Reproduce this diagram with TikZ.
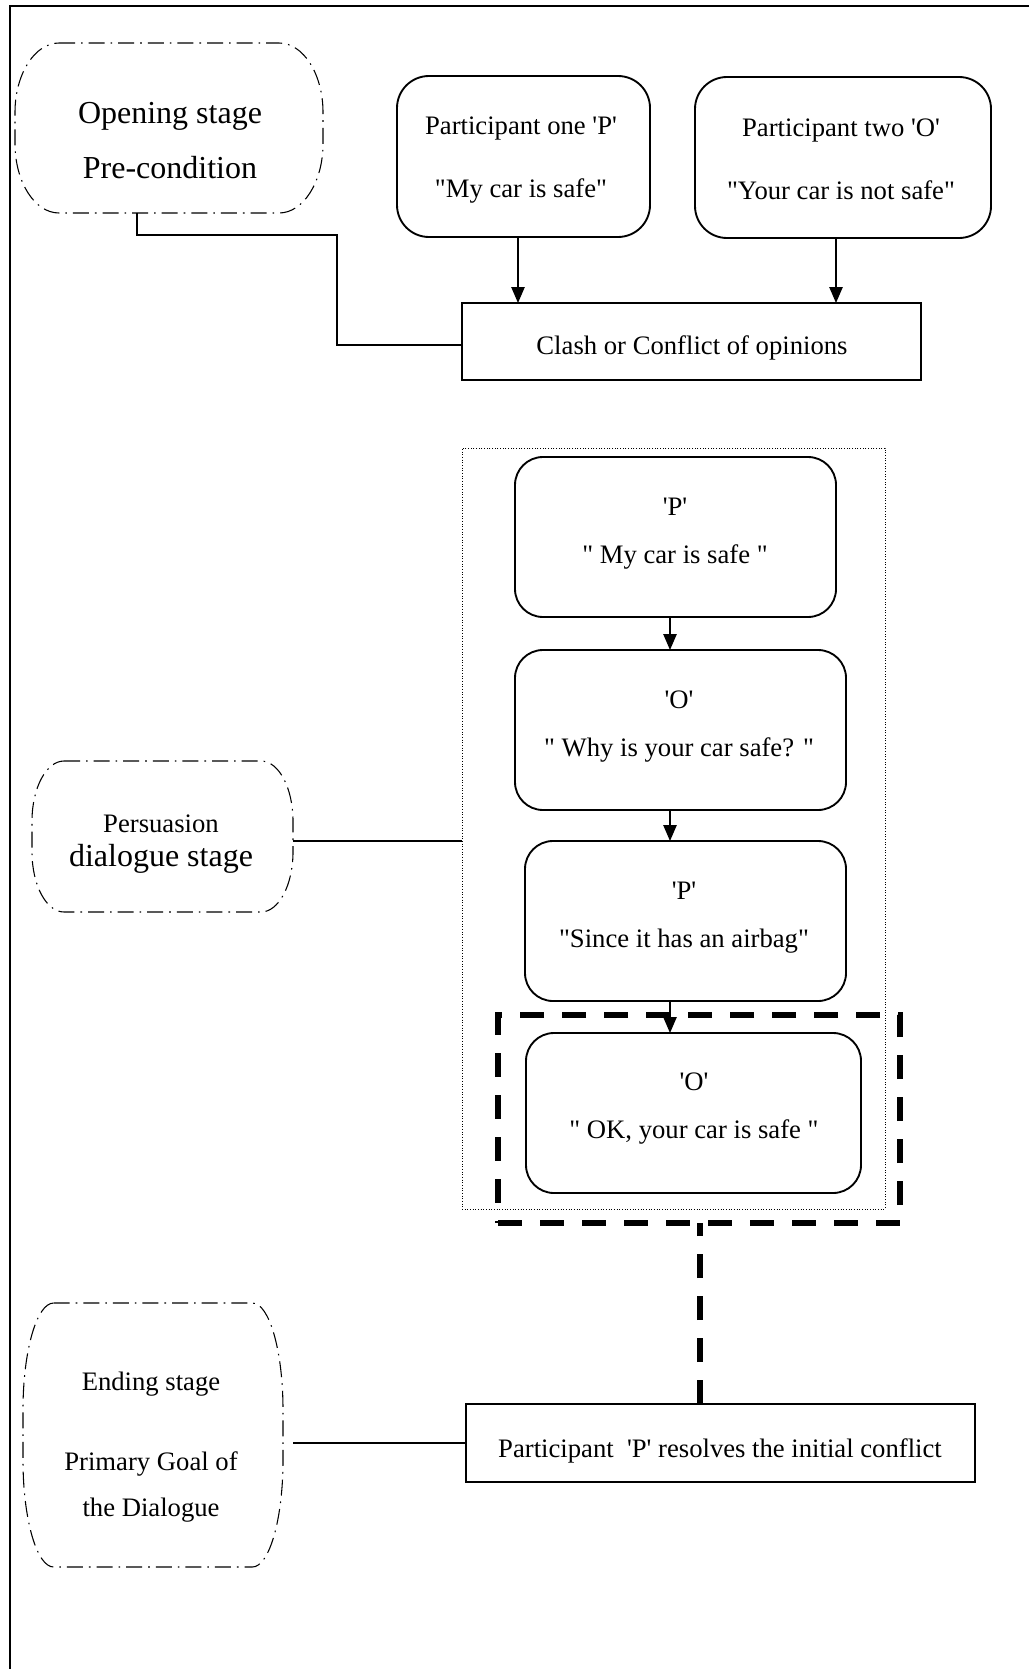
\documentclass[tikz,border=0pt]{standalone}
\usepackage{fontspec}
\setmainfont{Liberation Serif}
\usetikzlibrary{fit,arrows.meta,calc}
\newcommand{\myq}{\textquotesingle}
\newcommand{\mydq}{\textquotedbl}
% stage outline with elliptical corners: #1 node, #2 x radius, #3 y radius
\newcommand{\stageshape}[3]{%
  \draw[stageline] ([xshift=#2]#1.north west) -- ([xshift=-#2]#1.north east)
    .. controls ([xshift=-0.448*#2]#1.north east) and ([yshift=-0.448*#3]#1.north east) .. ([yshift=-#3]#1.north east)
    -- ([yshift=#3]#1.south east)
    .. controls ([yshift=0.448*#3]#1.south east) and ([xshift=-0.448*#2]#1.south east) .. ([xshift=-#2]#1.south east)
    -- ([xshift=#2]#1.south west)
    .. controls ([xshift=0.448*#2]#1.south west) and ([yshift=0.448*#3]#1.south west) .. ([yshift=#3]#1.south west)
    -- ([yshift=-#3]#1.north west)
    .. controls ([yshift=-0.448*#3]#1.north west) and ([xshift=0.448*#2]#1.north west) .. ([xshift=#2]#1.north west)
    -- cycle;}
\begin{document}
\begin{tikzpicture}[x=0.75pt,y=-0.75pt,
  every node/.style={inner sep=0pt,outer sep=0pt},
  framel/.style={line width=1.1pt},
  stageline/.style={line width=0.8pt,dash pattern=on 12pt off 4.5pt on 1.2pt off 4.5pt},
  stagebox/.style={draw=none,rectangle},
  pbox/.style={draw,line width=1.4pt,rounded corners=24pt},
  mbox/.style={draw,line width=1.4pt,rounded corners=21pt},
  sbox/.style={draw,line width=1.4pt},
  grpbox/.style={draw,line width=0.7pt,dash pattern=on 0.7pt off 1.3pt},
  thickdash/.style={line width=4.1pt,dash pattern=on 18pt off 13.5pt},
  conn/.style={line width=1.1pt},
  arr/.style={line width=1.2pt,-{Triangle[length=12pt,width=10pt]}},
  txt/.style={align=center,font=\fontsize{20pt}{36pt}\selectfont}]
\useasboundingbox (0,0) rectangle (1029,1669);
\fill[white] (0,0) rectangle (1029,1669);
% frame (cropped on right and bottom)
\draw[framel] (1029,6) -- (10,6) -- (10,1669);

% ---- opening stage ----
\node[stagebox,fit={(15,43) (323,213)}] (o) {};
\stageshape{o}{33pt}{52pt}
\node[txt,font=\fontsize{24pt}{41.25pt}\selectfont] (ot) at (170,141) {Opening stage\\Pre-condition};

\node[pbox,fit={(397,76) (650,237)}] (p1) {};
\node[txt,font=\fontsize{20pt}{47pt}\selectfont] (p1t) at (521,160) {Participant one \myq P\myq\\\mydq My car is safe\mydq};
\node[pbox,fit={(695,77) (991,238)}] (p2) {};
\node[txt,font=\fontsize{20pt}{47pt}\selectfont] (p2t) at (841,159) {Participant two \myq O\myq\\\mydq Your car is not safe\mydq};

\node[sbox,fit={(462,303) (921,380)}] (clash) {};
\node[txt] (clasht) at (692,348) {Clash or Conflict of opinions};

\coordinate (a1) at (518,0);
\coordinate (a2) at (836,0);
\draw[arr] (p1.south -| a1) -- (clash.north -| a1);
\draw[arr] (p2.south -| a2) -- (clash.north -| a2);
\coordinate (ob) at (337,235);
\coordinate (ob2) at (337,345);
\draw[conn] ([xshift=-24pt]o.south) |- (ob) -- (ob2) -- (ob2 -| clash.west);

% ---- persuasion stage ----
\node[grpbox,fit={(462,448) (885,1209)}] (grp) {};
\node[mbox,fit={(515,457) (836,617)}] (m1) {};
\node[txt] (m1t) at (675,534) {\myq P\myq\\\mydq{} My car is safe \mydq};
\node[mbox,fit={(515,650) (846,810)}] (m2) {};
\node[txt] (m2t) at (679,727) {\myq O\myq\\\mydq{} Why is your car safe? \mydq};
\node[mbox,fit={(525,841) (846,1001)}] (m3) {};
\node[txt] (m3t) at (684,918) {\myq P\myq\\\mydq Since it has an airbag\mydq};
\node[mbox,fit={(526,1033) (861,1193)}] (m4) {};
\node[txt] (m4t) at (694,1109) {\myq O\myq\\\mydq{} OK, your car is safe \mydq};
\node[draw,thickdash,fit={(498,1015) (900,1223)}] (dbox) {};

\coordinate (ax) at (670,0);
\draw[arr] (m1.south -| ax) -- (m2.north -| ax);
\draw[arr] (m2.south -| ax) -- (m3.north -| ax);
\draw[arr] (m3.south -| ax) -- (m4.north -| ax);

\node[stagebox,fit={(32,761) (293,912)}] (per) {};
\stageshape{per}{24pt}{45pt}
\node[txt,font=\fontsize{20pt}{25pt}\selectfont] (pert) at (161,844) {Persuasion\\{\fontsize{24pt}{25pt}\selectfont dialogue stage}};
\coordinate (pc) at ([yshift=-3.4pt]per.east);
\draw[conn] (pc) -- (pc -| grp.west);

% ---- ending stage ----
\node[stagebox,fit={(23,1303) (283,1567)}] (endn) {};
\stageshape{endn}{23pt}{80pt}
\node[txt,font=\fontsize{20pt}{34pt}\selectfont] (endt) at (151,1447) {Ending stage\\[26pt]Primary Goal of\\the Dialogue};

\node[sbox,fit={(466,1404) (975,1482)}] (res) {};
\node[txt] (rest) at (720,1451) {Participant\ \ \myq P\myq{} resolves the initial conflict};

\coordinate (dx) at (700,0);
\draw[thickdash] (res.north -| dx) -- (dbox.south -| dx);
\coordinate (ec) at ([xshift=7.5pt,yshift=-6pt]endn.east);
\draw[conn] (ec) -- (ec -| res.west);
\end{tikzpicture}
\end{document}
